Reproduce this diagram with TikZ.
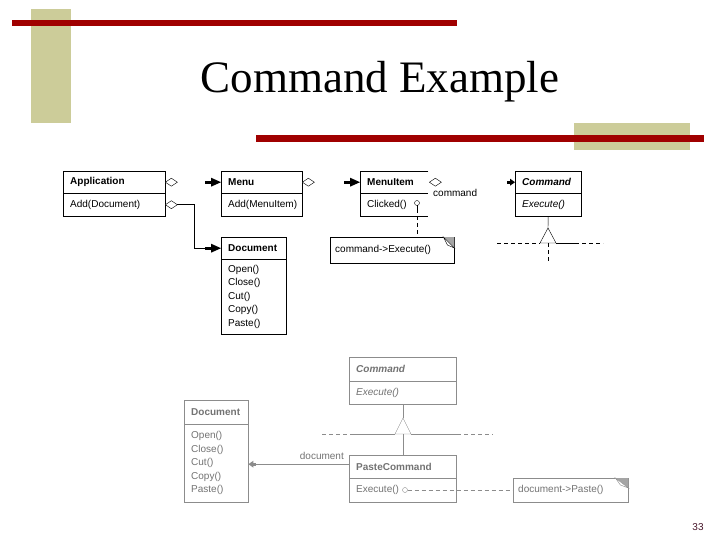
\documentclass[tikz,border=0pt]{standalone}
\usepackage{fontspec}
\setmainfont{Liberation Serif}
\newfontfamily\umlf{Liberation Sans}
\definecolor{barred}{RGB}{160,0,0}
\definecolor{tanc}{RGB}{204,204,153}
\definecolor{lg}{RGB}{140,140,140}
\definecolor{lt}{RGB}{115,115,115}
\definecolor{foldc}{RGB}{165,165,165}
\definecolor{pgnum}{RGB}{70,20,40}
\begin{document}
\begin{tikzpicture}[x=1pt,y=-1pt,
  hd/.style={draw, anchor=north west, inner xsep=7pt, inner ysep=0pt, minimum height=#1, align=left,
     font=\umlf\bfseries\fontsize{10}{11}\selectfont},
  bd/.style={draw, anchor=north west, inner xsep=7pt, inner ysep=0pt, minimum height=#1, align=left,
     font=\umlf\fontsize{10}{13.4}\selectfont},
  notebox/.style={anchor=north west, inner xsep=5pt, inner ysep=0pt, minimum height=#1, align=left,
     font=\umlf\fontsize{10}{11}\selectfont},
  lbl/.style={inner sep=0pt, font=\umlf\fontsize{10}{11}\selectfont},
  dsh/.style={dash pattern=on 4pt off 3pt},
  odiam/.pic={\draw[fill=white] (0,0) -- (6,-4) -- (12,0) -- (6,4) -- cycle;},
  farr/.pic={\fill (-16,-1.6) rectangle (-9,1.6); \fill (-10,-4.5) -- (0,0) -- (-10,4.5) -- cycle;},
  sarr/.pic={\fill (-8,-1.6) rectangle (-4,1.6); \fill (-5,-3.5) -- (0,0) -- (-5,3.5) -- cycle;},
]
\useasboundingbox (0,0) rectangle (720,540);
\fill[white] (0,0) rectangle (720,540);

% decoration bars
\fill[tanc] (31,9) rectangle (71,123);
\fill[tanc] (574,123) rectangle (690,150);
\fill[barred] (12,20) rectangle (457,26);
\fill[barred] (256,135) rectangle (704,142);

% title
\node[anchor=base, inner sep=0pt, font=\fontsize{45}{50}\selectfont] (title) at (380,93) {Command Example};

% ---------- top diagram ----------
\node[hd=22pt, text width=88pt] (apph) at (63,171) {Application};
\node[bd=23pt, text width=88pt] (appb) at (63,193) {Add(Document)};

\node[hd=22pt, text width=67pt] (menuh) at (221,171) {Menu};
\node[bd=23pt, text width=67pt] (menub) at (221,193) {Add(MenuItem)};

\node[hd=22pt, text width=54pt, draw=none] (mih) at (360,171) {MenuItem};
\node[bd=23pt, text width=54pt, draw=none] (mib) at (360,193) {Clicked()};
\draw (mih.north east) -- (mih.north west) -- (mib.south west) -- (mib.south east);
\draw (mih.south west) -- (mih.south east);

\node[hd=22pt, text width=52pt, font=\umlf\bfseries\itshape\fontsize{10}{11}\selectfont] (cmdh) at (515,171) {Command};
\node[bd=23pt, text width=52pt, font=\umlf\itshape\fontsize{10}{11}\selectfont] (cmdb) at (515,193) {Execute()};

\node[hd=22pt, text width=51pt] (doch) at (221,237) {Document};
\node[bd=75pt, text width=51pt] (docb) at (221,259) {Open()\\Close()\\Cut()\\Copy()\\Paste()};

\node[notebox=26pt, text width=114pt] (note1) at (330,237) {command-{}>Execute()};
\draw (note1.north west) rectangle (note1.south east);
\fill[foldc] ([xshift=-11pt]note1.north east) -- (note1.north east) -- ([yshift=-11pt]note1.north east) -- cycle;
\draw[fill=white] ([xshift=-11pt]note1.north east) -- ([xshift=-7pt,yshift=-8pt]note1.north east) -- ([yshift=-11pt]note1.north east) -- cycle;

% aggregation markers
\pic at (apph.east) {odiam};
\pic at (menuh.west) {farr};
\pic at (menuh.east) {odiam};
\pic at (mih.west) {farr};
\pic at ([xshift=1pt]mih.east) {odiam};
\pic at (cmdh.west) {sarr};
\node[lbl, anchor=west] (cmdlbl) at (433,193) {command};

\pic at (appb.east) {odiam};
\coordinate (bend) at (194,0);
\draw ([xshift=12pt]appb.east) -| (bend |- doch.west) -- ([xshift=-10pt]doch.west);
\pic at (doch.west) {farr};

% MenuItem -> note
\coordinate (mic) at (417,203);
\draw (mic) circle (2.5);
\draw (417,205.5) -- (417,209);
\draw[dsh] (417,209) -- (note1.north -| mic);

% inheritance top
\coordinate (tri1) at (548,228);
\draw (cmdb.south) -- (tri1);
\draw[fill=white] (tri1) -- (556,243) -- (540,243) -- cycle;
\draw[dsh] (497,243) -- (540,243);
\draw (556,243) -- (575,243);
\draw[dsh] (575,243) -- (603,243);
\draw[dsh] (548,243) -- (548,262);

% ---------- bottom diagram ----------
\begin{scope}[draw=lg, text=lt]
\node[hd=24pt, text width=93pt, font=\umlf\bfseries\itshape\fontsize{10}{11}\selectfont] (c2h) at (349,357) {Command};
\node[bd=23pt, text width=93pt, font=\umlf\itshape\fontsize{10}{11}\selectfont] (c2b) at (349,381) {Execute()};

\node[hd=24pt, text width=50pt] (d2h) at (184,400) {Document};
\node[bd=78pt, text width=50pt] (d2b) at (184,424) {Open()\\Close()\\Cut()\\Copy()\\Paste()};

\node[hd=23pt, text width=93pt] (pch) at (349,455) {PasteCommand};
\node[bd=24pt, text width=93pt] (pcb) at (349,478) {Execute()};

\node[notebox=24pt, text width=105pt] (note2) at (513,478) {document-{}>Paste()};
\draw (note2.north west) rectangle (note2.south east);
\fill[foldc] ([xshift=-13pt]note2.north east) -- (note2.north east) -- ([yshift=-10pt]note2.north east) -- cycle;
\draw[fill=white] ([xshift=-13pt]note2.north east) -- ([xshift=-8pt,yshift=-7pt]note2.north east) -- ([yshift=-10pt]note2.north east) -- cycle;

% inheritance bottom
\coordinate (tri2) at (403,418);
\draw (c2b.south -| tri2) -- (tri2);
\draw[fill=white] (tri2) -- (411,434) -- (395,434) -- cycle;
\draw[dsh] (322,434) -- (353,434);
\draw (353,434) -- (395,434);
\draw (411,434) -- (457,434);
\draw[dsh] (457,434) -- (493,434);
\draw (403,434) -- (pch.north -| tri2);

% association
\draw ([yshift=2.5pt]pch.west) -- ([xshift=6pt,yshift=2.5pt]d2b.east |- pch.west);
\pic[fill=lg, rotate=180] at ([yshift=2.5pt]d2b.east |- pch.west) {sarr};
\node[lbl, anchor=base east] (doclbl) at (344,459) {document};

% Execute -> note
\coordinate (pc) at (405,490);
\draw (pc) circle (2.5);
\draw[dsh] (407.5,490) -- (note2.west |- pc);
\end{scope}

\node[inner sep=0pt, font=\umlf\fontsize{10}{12}\selectfont, text=pgnum] (pg) at (698,527) {33};
\end{tikzpicture}
\end{document}
